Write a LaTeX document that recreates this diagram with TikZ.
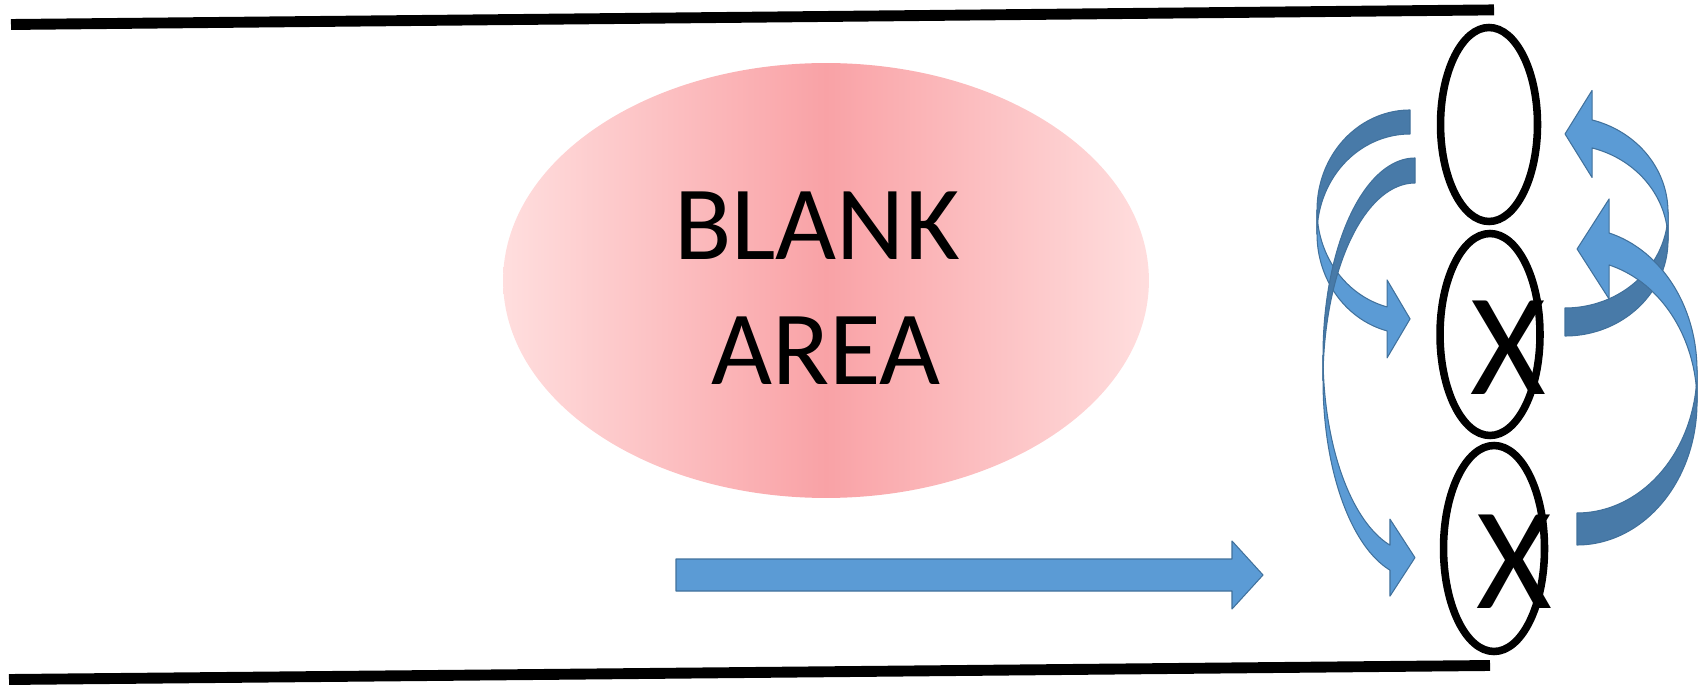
\documentclass[tikz,border=0pt]{standalone}
\usepackage{fontspec}
\setmainfont{Carlito}
\usetikzlibrary{shapes.geometric}
\definecolor{bluL}{RGB}{91,155,213}
\definecolor{bluD}{RGB}{72,122,168}
\definecolor{bluE}{RGB}{65,113,156}
\definecolor{pinkC}{RGB}{249,162,166}
\definecolor{pinkE}{RGB}{255,222,222}
\tikzset{
  backband/.style={fill=bluD, draw=bluE, line width=0.6pt, line join=round},
  frontband/.style={fill=bluL, draw=bluE, line width=0.6pt, line join=round},
  ring/.style={ellipse, draw=black, line width=4.3pt, inner sep=0pt},
  rule/.style={line width=6.2pt},
  bigtext/.style={font=\fontsize{60}{71}\selectfont, anchor=base, inner sep=0pt},
  xtext/.style={font=\fontsize{83}{90}\selectfont, anchor=base, inner sep=0pt},
}
% curved arrow bending to the left, head at bottom pointing right
% #1 cx  #2 cy  #3 rx  #4 ry  #5 band  #6 tip length  #7 half head  #8 end angle
\newcommand{\curvL}[8]{%
  \path[backband]
    plot[domain=270:180,samples=50,variable=\a] ({#1+#3*cos(\a)},{#2+#4*sin(\a)})
    -- plot[domain=180:270,samples=50,variable=\a] ({#1+#3*cos(\a)},{#2+#5+#4*sin(\a)})
    -- cycle;
  \path[frontband]
    plot[domain=180:#8,samples=50,variable=\a] ({#1+#3*cos(\a)},{#2+#4*sin(\a)})
    -- ({#1+#3*cos(#8)},{#2+#4*sin(#8)+#5/2-#7})
    -- ({#1+#3*cos(#8)+#6},{#2+#4*sin(#8)+#5/2})
    -- ({#1+#3*cos(#8)},{#2+#4*sin(#8)+#5/2+#7})
    -- ({#1+#3*cos(#8)},{#2+#4*sin(#8)+#5})
    -- plot[domain=#8:180,samples=50,variable=\a] ({#1+#3*cos(\a)},{#2+#5+#4*sin(\a)})
    -- cycle;
}
% curved arrow bending to the right, head at top pointing left
\newcommand{\curvR}[8]{%
  \path[backband]
    plot[domain=90:0,samples=50,variable=\a] ({#1+#3*cos(\a)},{#2+#4*sin(\a)})
    -- plot[domain=0:90,samples=50,variable=\a] ({#1+#3*cos(\a)},{#2+#5+#4*sin(\a)})
    -- cycle;
  \path[frontband]
    plot[domain=0:#8,samples=50,variable=\a] ({#1+#3*cos(\a)},{#2+#4*sin(\a)})
    -- ({#1+#3*cos(#8)},{#2+#4*sin(#8)+#5/2-#7})
    -- ({#1+#3*cos(#8)-#6},{#2+#4*sin(#8)+#5/2})
    -- ({#1+#3*cos(#8)},{#2+#4*sin(#8)+#5/2+#7})
    -- ({#1+#3*cos(#8)},{#2+#4*sin(#8)+#5})
    -- plot[domain=#8:0,samples=50,variable=\a] ({#1+#3*cos(\a)},{#2+#5+#4*sin(\a)})
    -- cycle;
}
\begin{document}
\begin{tikzpicture}[x=0.02cm,y=-0.02cm]
\useasboundingbox (0,0) rectangle (1699,685);

% frame lines
\coordinate (tl) at (11,24.5);
\coordinate (tr) at (1494,9.9);
\coordinate (bl) at (9,679.5);
\coordinate (br) at (1490,665.5);
\draw[rule] (tl) -- (tr);
\draw[rule] (bl) -- (br);

% blank area
\node[ellipse, minimum width=12.92cm, minimum height=8.7cm, inner sep=0pt,
      left color=pinkE, right color=pinkE, middle color=pinkC] (blank) at (826,280.5) {};
\node[bigtext] (t1) at (817,260) {BLANK};
\node[bigtext] (t2) at (826,385) {AREA};

% straight arrow
\path[frontband] (676,559) -- (1232,559) -- (1232,541) -- (1263,575)
  -- (1232,609) -- (1232,591) -- (676,591) -- cycle;

% cells
\node[ring, minimum width=1.94cm, minimum height=3.88cm] (c1) at (1489,124.5) {};
\node[ring, minimum width=2.0cm, minimum height=4.04cm] (c2) at (1490,334.5) {};
\node[ring, minimum width=2.02cm, minimum height=4.12cm] (c3) at (1494,548.5) {};
\node[xtext] (x2) at (1508,395) {X};
\node[xtext] (x3) at (1514,608) {X};

% curved arrows
\curvL{1410}{210}{93}{100}{24}{23}{39}{104.3}
\curvL{1415}{355.3}{92}{197.3}{25}{25}{38.5}{105.8}
\curvR{1565}{212.3}{103}{95.7}{28}{27}{43.5}{-74.8}
\curvR{1577}{370.4}{120}{142.6}{32}{32}{50}{-74.5}
\end{tikzpicture}
\end{document}
